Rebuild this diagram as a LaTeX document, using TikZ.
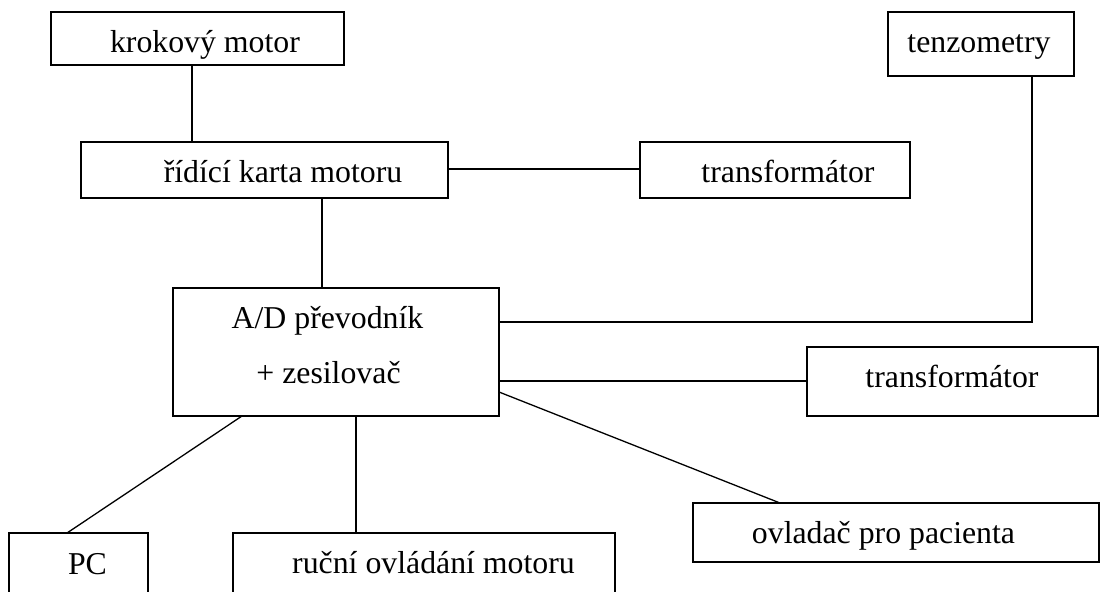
\documentclass[tikz,border=0pt]{standalone}
\usepackage{fontspec}
\setmainfont{Liberation Serif}
\begin{document}
\begin{tikzpicture}[x=1pt,y=-1pt,
  box/.style={draw, line width=1.5pt, inner sep=0pt, outer sep=0pt, fill=none},
  conn/.style={line width=1.3pt},
  lbl/.style={anchor=base, inner sep=0pt, font=\fontsize{31.8}{36}\selectfont}]
\useasboundingbox (0,0) rectangle (1101,592);
\clip (0,0) rectangle (1101,592);
\fill[white] (0,0) rectangle (1101,592);
% boxes
\node[box, minimum width=293pt, minimum height=53pt] (km) at (197.5,38.5) {};
\node[box, minimum width=367pt, minimum height=56pt] (rk) at (264.5,170) {};
\node[box, minimum width=270pt, minimum height=56pt] (tr1) at (775,170) {};
\node[box, minimum width=186pt, minimum height=64pt] (tz) at (981,44) {};
\node[box, minimum width=326pt, minimum height=128pt] (AD) at (336,352) {};
\node[box, minimum width=291pt, minimum height=69pt] (tr2) at (952.5,381.5) {};
\node[box, minimum width=139pt, minimum height=87pt] (PC) at (78.5,576.5) {};
\node[box, minimum width=382pt, minimum height=87pt] (ruc) at (424,576.5) {};
\node[box, minimum width=406pt, minimum height=59pt] (ov) at (896,532.5) {};
% labels
\node[lbl] (tkm) at (205,52) {krokový motor};
\node[lbl] (trk) at (283,182) {řídící karta motoru};
\node[lbl] (ttr1) at (788,182) {transformátor};
\node[lbl] (ttz) at (979,52) {tenzometry};
\node[lbl] (tad1) at (327.5,328) {A/D převodník};
\node[lbl] (tad2) at (328.5,383) {+ zesilovač};
\node[lbl] (ttr2) at (952,387) {transformátor};
\node[lbl] (tpc) at (87.5,574) {PC};
\node[lbl] (truc) at (433.5,573) {ruční ovládání motoru};
\node[lbl] (tov) at (883.5,543) {ovladač pro pacienta};
% connectors
\draw[conn] (km.south -| 192,0) -- (rk.north -| 192,0);
\draw[conn] (rk.east |- 0,169) -- (tr1.west |- 0,169);
\draw[conn] (rk.south -| 322,0) -- (AD.north -| 322,0);
\draw[conn] (AD.east |- 0,322) -| (tz.south -| 1032,0);
\draw[conn] (AD.east |- 0,381) -- (tr2.west |- 0,381);
\draw[conn] (AD.east |- 0,392) -- (ov.north -| 780,0);
\draw[conn] (AD.south -| 242,0) -- (PC.north -| 67,0);
\draw[conn] (AD.south -| 356,0) -- (ruc.north -| 356,0);
\end{tikzpicture}
\end{document}
